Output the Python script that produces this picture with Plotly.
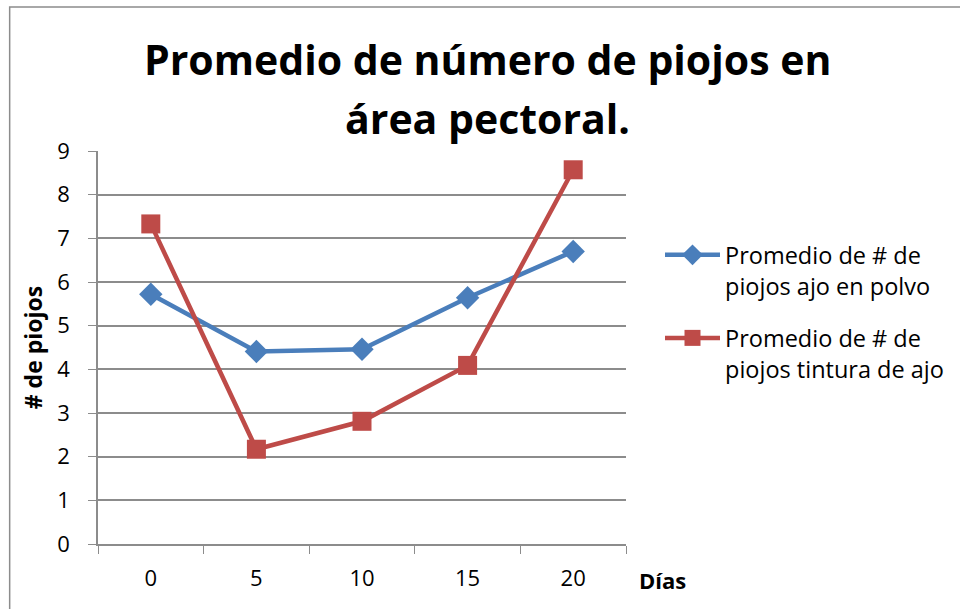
import plotly.graph_objects as go

dias = ["0", "5", "10", "15", "20"]
ajo_polvo = [5.72, 4.41, 4.46, 5.64, 6.70]
tintura_ajo = [7.33, 2.17, 2.81, 4.09, 8.57]
name_polvo = "Promedio de # de<br>piojos ajo en polvo"
name_tintura = "Promedio de # de<br>piojos tintura de ajo"
title_lines = ["Promedio de número de piojos en", "área pectoral."]
y_ticks = list(range(0, 10))

FONT = "Open Sans"
grid = "#8c8c8c"
L, R, T, B = 98, 333, 151, 65
PW, PH = 960 - L - R, 609 - T - B


def px_x(x):
    return (x - L) / PW


def px_y(y):
    return (609 - B - y) / PH


fig = go.Figure()
fig.add_trace(go.Scatter(
    x=dias, y=ajo_polvo, name=name_polvo, mode="lines+markers",
    line=dict(color="#4a7ebb", width=4.5),
    marker=dict(symbol="diamond", size=18, color="#4a7ebb"),
    legendgroup="a"))
fig.add_trace(go.Scatter(
    x=dias, y=tintura_ajo, name=name_tintura, mode="lines+markers",
    line=dict(color="#be4b48", width=4.5),
    marker=dict(symbol="square", size=19, color="#be4b48"),
    legendgroup="b"))

annotations = [
    dict(text="<b>Días</b>", xref="paper", yref="paper",
         x=px_x(664), y=px_y(580), xanchor="center", yanchor="middle",
         showarrow=False, font=dict(family=FONT, size=22)),
]
for line, yc in zip(title_lines, [59, 118]):
    annotations.append(dict(text="<b>" + line + "</b>", xref="paper", yref="paper",
                            x=px_x(488), y=px_y(yc), xanchor="center", yanchor="middle",
                            showarrow=False, font=dict(family=FONT, size=41)))

fig.update_layout(
    width=960, height=609,
    margin=dict(l=L, r=R, t=T, b=B),
    paper_bgcolor="white", plot_bgcolor="white",
    font=dict(family=FONT, size=22, color="black"),
    showlegend=True,
    legend=dict(x=px_x(660), xanchor="left", y=px_y(233), yanchor="top",
                font=dict(family=FONT, size=23.5), itemwidth=55, valign="top",
                traceorder="grouped", tracegroupgap=19,
                bgcolor="rgba(0,0,0,0)"),
    xaxis=dict(type="category", range=[-0.5, 4.5], tickson="boundaries",
               ticks="outside", ticklen=8, tickcolor=grid, showgrid=False,
               showline=True, linecolor=grid, linewidth=1.5,
               tickfont=dict(size=22), ticklabelstandoff=14, zeroline=False),
    yaxis=dict(range=[0, 9], tickvals=y_ticks, ticks="outside", ticklen=8,
               tickcolor=grid, showgrid=True, gridcolor=grid, gridwidth=1.5,
               showline=True, linecolor=grid, linewidth=1.5, zeroline=False,
               tickfont=dict(size=22), ticklabelstandoff=14,
               title=dict(text="<b># de piojos</b>", font=dict(size=23), standoff=8)),
    shapes=[dict(type="rect", xref="paper", yref="paper",
                 x0=px_x(9.5), x1=px_x(1000), y0=px_y(700), y1=px_y(7),
                 line=dict(color="#8c8c8c", width=1.5), layer="below")],
    annotations=annotations,
)

fig.write_html("out.html", post_script="document.body.style.margin='0';",
               config={"displayModeBar": False})
